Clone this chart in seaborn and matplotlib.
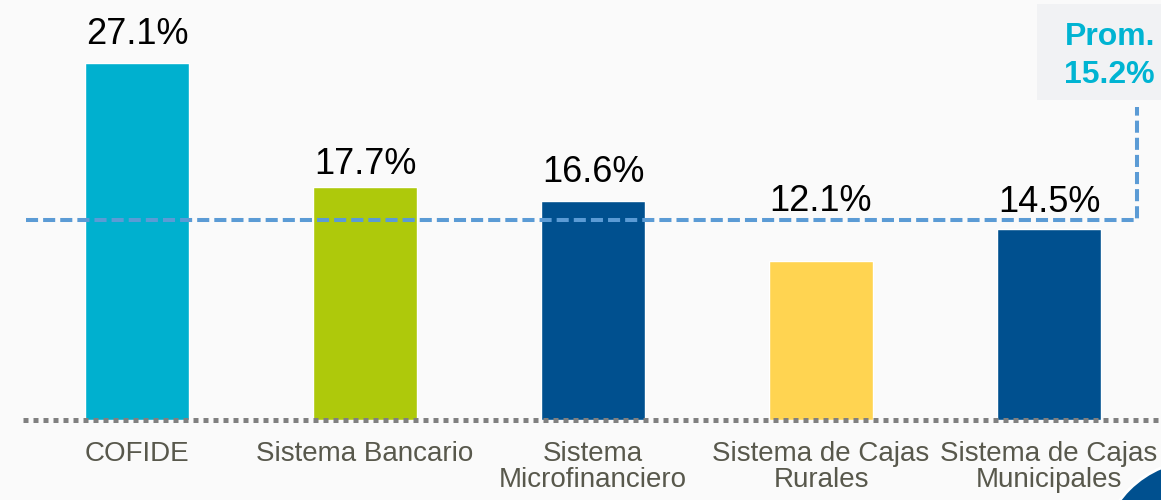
import pandas as pd
import matplotlib.pyplot as plt
import seaborn as sns
from matplotlib.patches import Rectangle, Ellipse

categories = ['COFIDE', 'Sistema Bancario', 'Sistema\nMicrofinanciero',
              'Sistema de Cajas\nRurales', 'Sistema de Cajas\nMunicipales']
values = [27.1, 17.7, 16.6, 12.1, 14.5]
average = 15.2
bar_colors = ['#00B0CF', '#AEC90B', '#00508F', '#FFD451', '#00508F']

sns.set_style('white')
plt.rcParams['font.family'] = ['Liberation Sans', 'DejaVu Sans']

df = pd.DataFrame({'cat': categories, 'val': values})

fig = plt.figure(figsize=(11.61, 5.0), dpi=100)
fig.patch.set_facecolor('#fafafa')
ax = fig.add_axes([0, 80 / 500, 1, 420 / 500])
ax.set_facecolor('none')

sns.barplot(data=df, x='cat', y='val', hue='cat', palette=bar_colors,
            width=0.456, legend=False, saturation=1, ax=ax, zorder=2)

ax.set_xlim(-137 / 228, (1161 - 137) / 228)
ax.set_ylim(0, 420 / 13.17)
for s in ax.spines.values():
    s.set_visible(False)
ax.set_yticks([])
ax.set_xlabel('')
ax.set_ylabel('')
ax.tick_params(axis='x', length=0, pad=15, labelsize=20, labelcolor='#58584c')
for lab in ax.get_xticklabels():
    lab.set_linespacing(1.0)
    lab.set_multialignment('center')

# value labels (offsets in points above each bar)
label_offsets = [14, 9, 14, 36, 12]
for i, (v, off) in enumerate(zip(values, label_offsets)):
    ax.annotate(f'{v:.1f}%', (i, v), xytext=(0, off), textcoords='offset points',
                ha='center', va='baseline', fontsize=26, color='black', zorder=5)

# dotted baseline
ax.axhline(0, xmin=23 / 1161, xmax=1, color='#808080', lw=3.6,
           linestyle=(0, (1, 1)), dash_capstyle='butt', clip_on=False, zorder=4)

# average line with connector to the box
x_start = (26 - 137) / 228
x_corner = (1137 - 137) / 228
box_bottom = (420 - 107) / 13.17
ax.plot([x_start, x_corner, x_corner], [average, average, box_bottom],
        color='#5B9BD5', lw=2.9, linestyle=(0, (3, 1.25)), zorder=3,
        clip_on=False)

# "Prom." box
fig.patches.append(Rectangle((1037 / 1161, 1 - 100 / 500), 130 / 1161, 96 / 500,
                             transform=fig.transFigure, facecolor='#f1f2f4',
                             edgecolor='none', zorder=1))
fig.text(1155 / 1161, 1 - 45 / 500, 'Prom.', ha='right', va='baseline',
         fontsize=23, fontweight='bold', color='#00B4D2')
fig.text(1155 / 1161, 1 - 83 / 500, f'{average:.1f}%', ha='right', va='baseline',
         fontsize=23, fontweight='bold', color='#00B4D2')

# decorative circle at bottom-right
fig.patches.append(Ellipse((1200 / 1161, 1 - 560 / 500), 200 / 1161, 200 / 500,
                           transform=fig.transFigure, facecolor='#00508F',
                           edgecolor='white', lw=2, zorder=6))

fig.savefig('out.png', dpi=100, facecolor=fig.get_facecolor())
